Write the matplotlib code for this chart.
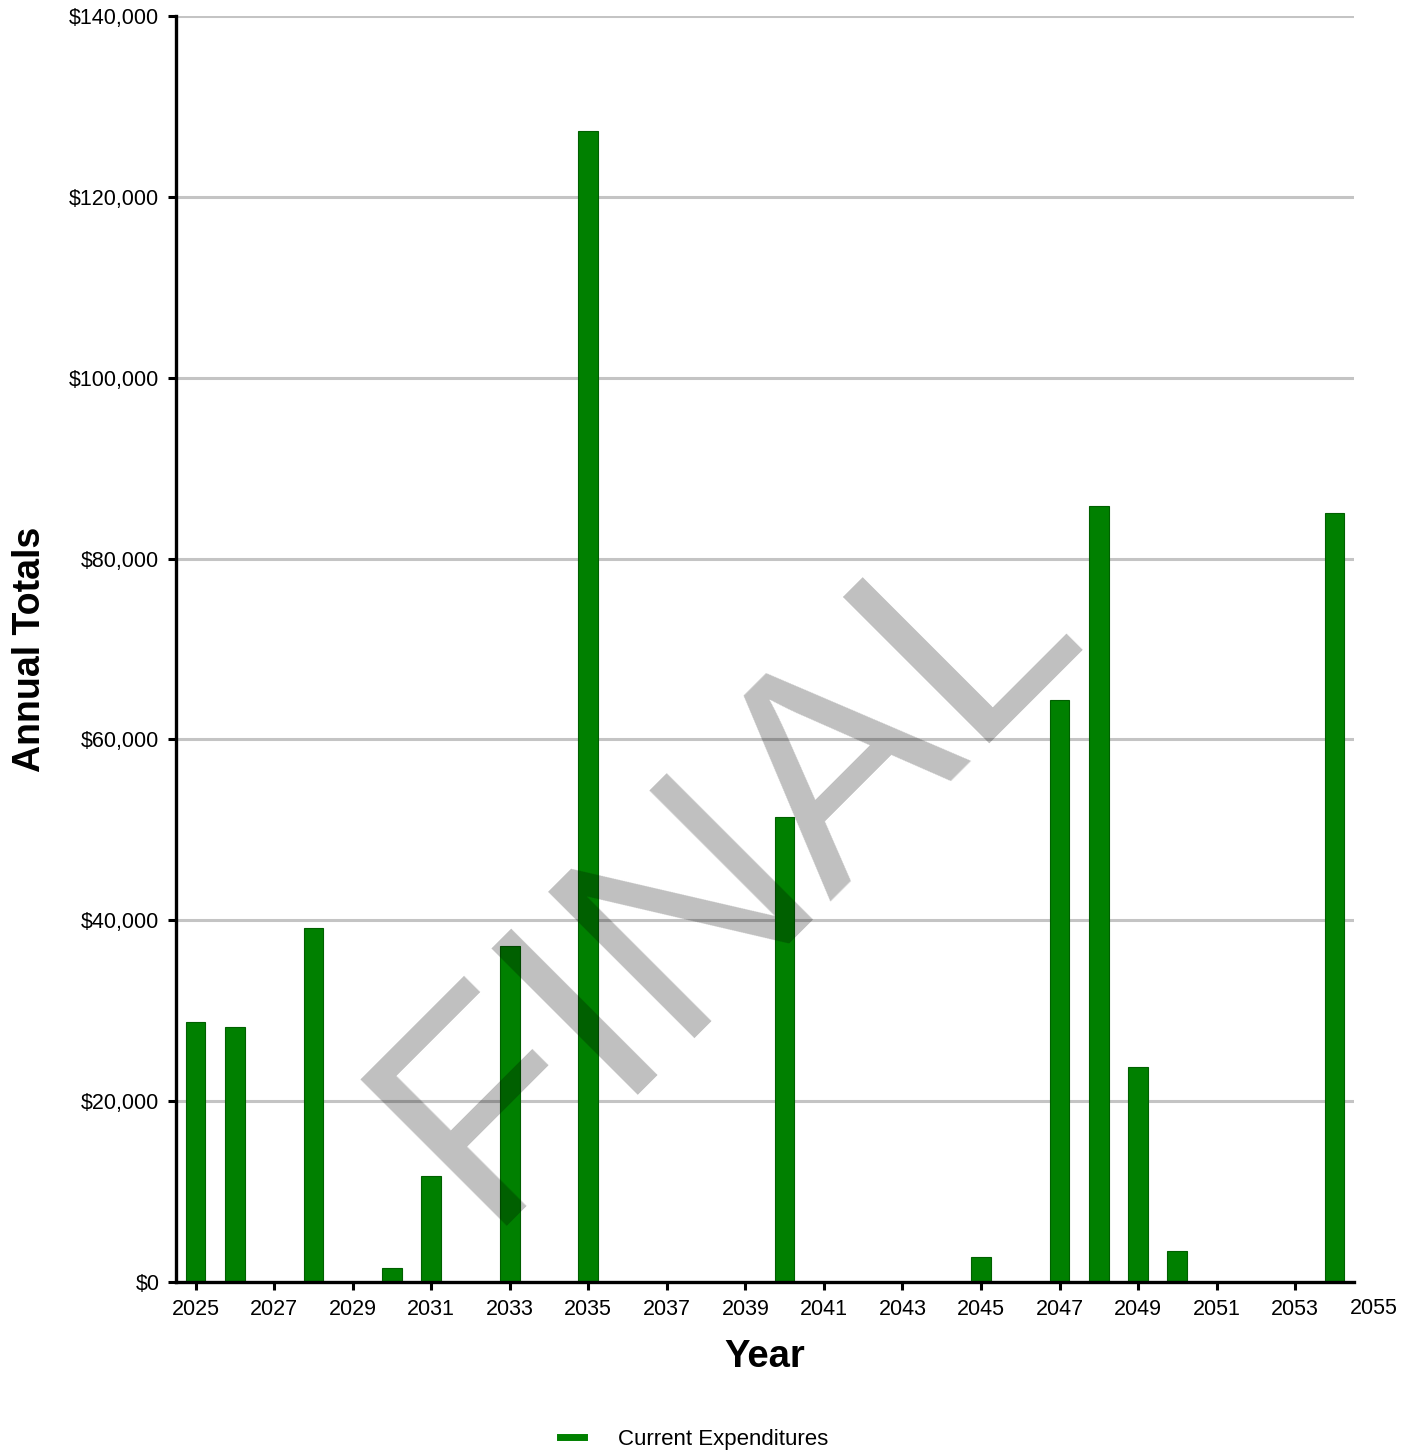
import matplotlib
matplotlib.use("Agg")
import matplotlib.pyplot as plt
from matplotlib.ticker import FuncFormatter
from matplotlib.lines import Line2D

plt.rcParams['font.family'] = ['Liberation Sans', 'DejaVu Sans']

# annual totals
years = [2025, 2026, 2028, 2030, 2031, 2033, 2035, 2040, 2045, 2047, 2048, 2049, 2050, 2054]
totals = [28750, 28200, 39150, 1550, 11700, 37150, 127300, 51400, 2750, 64350, 85800, 23800, 3450, 85000]
year_ticks = list(range(2025, 2056, 2))
y_ticks = list(range(0, 140001, 20000))

fig = plt.figure(figsize=(14.19, 14.56), dpi=100)
ax = fig.add_axes([176/1419, 1-1282/1456, (1354-176)/1419, (1282-16)/1456])

ax.bar(years, totals, width=0.5, color='#008000', edgecolor='#006000', linewidth=0.8, zorder=3)

ax.set_xlim(2024.5, 2054.5)
ax.set_ylim(0, 140000)
ax.set_xticks([t for t in year_ticks if t <= 2054])
ax.set_yticks(y_ticks)
ax.yaxis.set_major_formatter(FuncFormatter(lambda v, p: '${:,.0f}'.format(v)))

for v in y_ticks[1:]:
    ax.axhline(v, color='#c4c4c4', linewidth=2.2, zorder=1)

for s in ['top', 'right']:
    ax.spines[s].set_visible(False)
for s in ['left', 'bottom']:
    ax.spines[s].set_linewidth(2.4)
    ax.spines[s].set_zorder(4)
ax.tick_params(axis='both', direction='out', length=6, width=2.2, labelsize=15.5, pad=6)

# last tick label sits past the axis end
ax.annotate('2055', xy=(2055, 0), xycoords=('data', 'axes fraction'),
            xytext=(0, -11.5), textcoords='offset points',
            ha='center', va='top', fontsize=15.5, annotation_clip=False)

ax.set_xlabel('Year', fontsize=27.5, fontweight='bold', labelpad=14)
ax.set_ylabel('Annual Totals', fontsize=27, fontweight='bold', labelpad=15)

handle = Line2D([0], [0], color='#008000', linewidth=5)
fig.legend([handle], ['Current Expenditures'], loc='center', bbox_to_anchor=(0.489, 1-1439/1456),
           frameon=False, fontsize=16, handlelength=1.1, handletextpad=1.5)

fig.text(728/1419, 1-870/1456, 'FINAL', fontsize=216, color='black', alpha=0.25,
         rotation=45, ha='center', va='center', rotation_mode='anchor', zorder=10)

fig.savefig('out.png', dpi=100)
